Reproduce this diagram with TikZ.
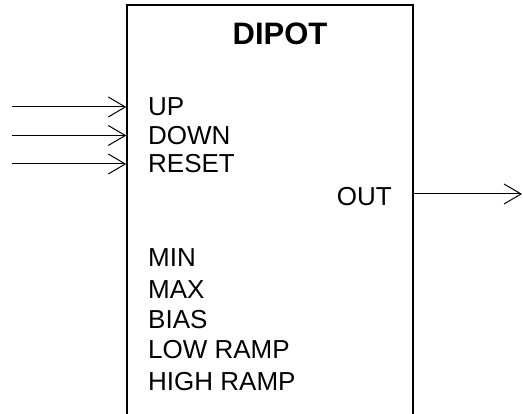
\documentclass[tikz,border=0pt]{standalone}
\usepackage{fontspec}
\setmainfont{Liberation Sans}
\usetikzlibrary{arrows.meta,positioning}
\definecolor{cInk}{HTML}{000000}
\tikzset{
  >={Straight Barb[length=17pt,width=20pt]},
  blk/.style ={draw=cInk,line width=1.5pt,minimum width=286pt,minimum height=435pt,inner sep=0pt},
  ttl/.style ={font=\fontsize{31}{34}\selectfont\bfseries,anchor=base,inner sep=0pt},
  pin/.style ={font=\fontsize{26}{30}\selectfont,anchor=base west,inner sep=0pt},
  pout/.style={font=\fontsize{26}{30}\selectfont,anchor=base east,inner sep=0pt},
  sig/.style ={->,line width=1pt,cInk},
}
\begin{document}
\begin{tikzpicture}[x=1pt,y=-1pt]
\clip (0,0) rectangle (523,414);
\node[blk] (dipot) at (270,222.5) {};
\node[ttl] (title) at (280,45) {DIPOT};
% inputs
\node[pin] (up)    at (148,116) {UP};
\node[pin] (down)  at (148,145) {DOWN};
\node[pin] (reset) at (148,173) {RESET};
% parameters
\node[pin] (min)   at (148,267) {MIN};
\node[pin] (max)   at (148,299) {MAX};
\node[pin] (bias)  at (148,329) {BIAS};
\node[pin] (lowr)  at (148,359) {LOW RAMP};
\node[pin] (highr) at (148,391) {HIGH RAMP};
% output
\node[pout] (out)  at (392,206) {OUT};
\coordinate (up-in)    at (12,107);
\coordinate (down-in)  at (12,135.5);
\coordinate (reset-in) at (12,164);
\coordinate (out-end)  at (522,194);
\foreach \s in {up,down,reset}
  \draw[sig] (\s-in) -- (dipot.west |- \s-in);
\draw[sig] (dipot.east |- out-end) -- (out-end);
\end{tikzpicture}
\end{document}
